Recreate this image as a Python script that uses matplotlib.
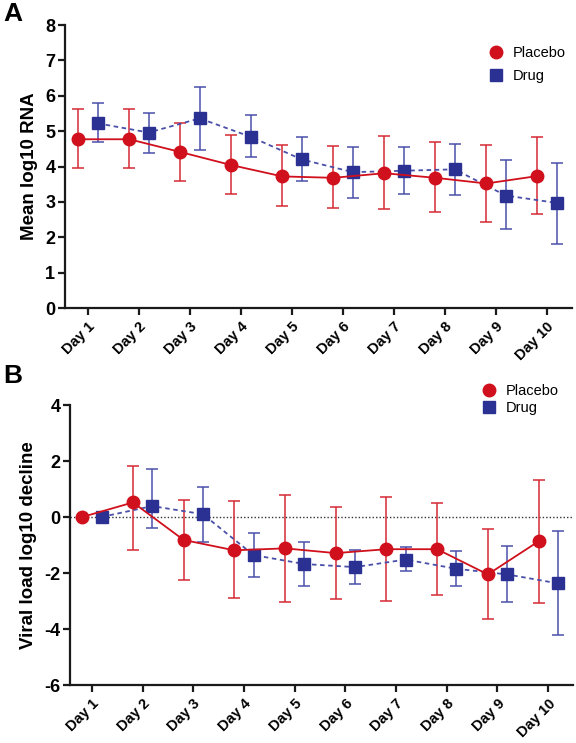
import matplotlib
matplotlib.use("Agg")
import matplotlib.pyplot as plt
import numpy as np

plt.rcParams['font.family'] = ['Liberation Sans', 'DejaVu Sans']
plt.rcParams['axes.unicode_minus'] = False

days = ["Day 1", "Day 2", "Day 3", "Day 4", "Day 5", "Day 6", "Day 7", "Day 8", "Day 9", "Day 10"]

# Panel A: Mean log10 RNA
a_placebo_mean = [4.77, 4.77, 4.41, 4.04, 3.72, 3.68, 3.81, 3.68, 3.52, 3.73]
a_placebo_upper = [5.62, 5.62, 5.24, 4.88, 4.61, 4.59, 4.85, 4.70, 4.61, 4.84]
a_placebo_lower = [3.95, 3.97, 3.59, 3.23, 2.88, 2.82, 2.79, 2.72, 2.44, 2.67]
a_drug_mean = [5.22, 4.96, 5.36, 4.84, 4.20, 3.84, 3.88, 3.92, 3.18, 2.97]
a_drug_upper = [5.79, 5.52, 6.24, 5.45, 4.82, 4.55, 4.55, 4.65, 4.17, 4.11]
a_drug_lower = [4.69, 4.39, 4.48, 4.26, 3.59, 3.12, 3.21, 3.19, 2.22, 1.80]

# Panel B: Viral load log10 decline
b_placebo_mean = [0.0, 0.52, -0.82, -1.19, -1.12, -1.29, -1.15, -1.15, -2.05, -0.87]
b_placebo_upper = [0.0, 1.82, 0.61, 0.56, 0.80, 0.35, 0.70, 0.50, -0.43, 1.33]
b_placebo_lower = [0.0, -1.19, -2.24, -2.90, -3.02, -2.92, -2.99, -2.79, -3.65, -3.07]
b_drug_mean = [0.0, 0.39, 0.10, -1.36, -1.68, -1.79, -1.52, -1.85, -2.05, -2.37]
b_drug_upper = [0.0, 1.71, 1.06, -0.58, -0.90, -1.19, -1.08, -1.21, -1.02, -0.50]
b_drug_lower = [0.0, -0.39, -0.88, -2.14, -2.48, -2.38, -1.93, -2.45, -3.05, -4.20]

RED = '#d0101c'
RED_ERR = '#d42a35'
BLUE = '#2b3192'
BLUE_ERR = '#4a4fa8'

fig = plt.figure(figsize=(5.76, 7.43), dpi=100)
axA = fig.add_axes([65/576, 1-308/743, 507/576, 283/743])
axB = fig.add_axes([70/576, 1-685/743, 503/576, 280/743])

x = np.arange(1, 11)
off = 0.19


def draw(ax, pm, pu, pl, dm, du, dl):
    pm, pu, pl = map(np.array, (pm, pu, pl))
    dm, du, dl = map(np.array, (dm, du, dl))
    ax.errorbar(x - off, pm, yerr=[pm - pl, pu - pm], fmt='none', ecolor=RED_ERR,
                elinewidth=1.1, capsize=4, capthick=1.1, zorder=2)
    ax.errorbar(x + off, dm, yerr=[dm - dl, du - dm], fmt='none', ecolor=BLUE_ERR,
                elinewidth=1.1, capsize=4, capthick=1.1, zorder=2)
    ax.plot(x - off, pm, '-', color=RED, lw=1.3, marker='o', ms=9, mfc=RED, mec=RED,
            label='Placebo', zorder=4)
    ax.plot(x + off, dm, '--', color=BLUE_ERR, lw=1.3, dashes=(2.5, 2), marker='s', ms=8.5,
            mfc=BLUE, mec=BLUE, label='Drug', zorder=3)
    for s in ['top', 'right']:
        ax.spines[s].set_visible(False)
    for s in ['left', 'bottom']:
        ax.spines[s].set_linewidth(1.6)
        ax.spines[s].set_color('#1a1a1a')
    ax.set_xticks(x)
    ax.set_xticklabels(days, rotation=45, ha='right', rotation_mode='anchor',
                       fontsize=10.5, fontweight='bold')
    ax.tick_params(axis='both', width=1.6, length=5, color='#1a1a1a')
    ax.tick_params(axis='y', pad=2)


def style_y(ax):
    for lab in ax.get_yticklabels():
        lab.set_fontweight('bold')
        lab.set_fontsize(13)


def legend(ax, bx, by, spacing):
    ax.legend(loc='upper left', bbox_to_anchor=(bx/576, 1-by/743), bbox_transform=fig.transFigure,
              frameon=False, fontsize=10.5, handlelength=1.0, handletextpad=0.6,
              labelspacing=spacing, borderaxespad=0, borderpad=0)
    for h in ax.get_legend().legend_handles:
        h.set_linestyle('none')


draw(axA, a_placebo_mean, a_placebo_upper, a_placebo_lower,
     a_drug_mean, a_drug_upper, a_drug_lower)
axA.set_xlim(1 - 23/51, 10 + 25/51)
axA.set_ylim(0, 8)
axA.set_yticks(range(0, 9))
style_y(axA)
axA.set_ylabel('Mean log10 RNA', fontsize=13.5, fontweight='bold', labelpad=5)
legend(axA, 489, 46, 0.6)

draw(axB, b_placebo_mean, b_placebo_upper, b_placebo_lower,
     b_drug_mean, b_drug_upper, b_drug_lower)
axB.axhline(0, color='#333333', lw=1.0, ls=(0, (1, 1.5)), zorder=1)
axB.set_xlim(1 - 22/51, 10 + 25/51)
axB.set_ylim(-6, 4)
axB.set_yticks([-6, -4, -2, 0, 2, 4])
style_y(axB)
axB.set_ylabel('Viral load log10 decline', fontsize=13.5, fontweight='bold', labelpad=5)
legend(axB, 482, 384, 0.2)

fig.text(3/576, 1-2/743, 'A', fontsize=19, fontweight='bold', va='top', ha='left')
fig.text(3/576, 1-364/743, 'B', fontsize=19, fontweight='bold', va='top', ha='left')

fig.savefig('out.png', dpi=100)
